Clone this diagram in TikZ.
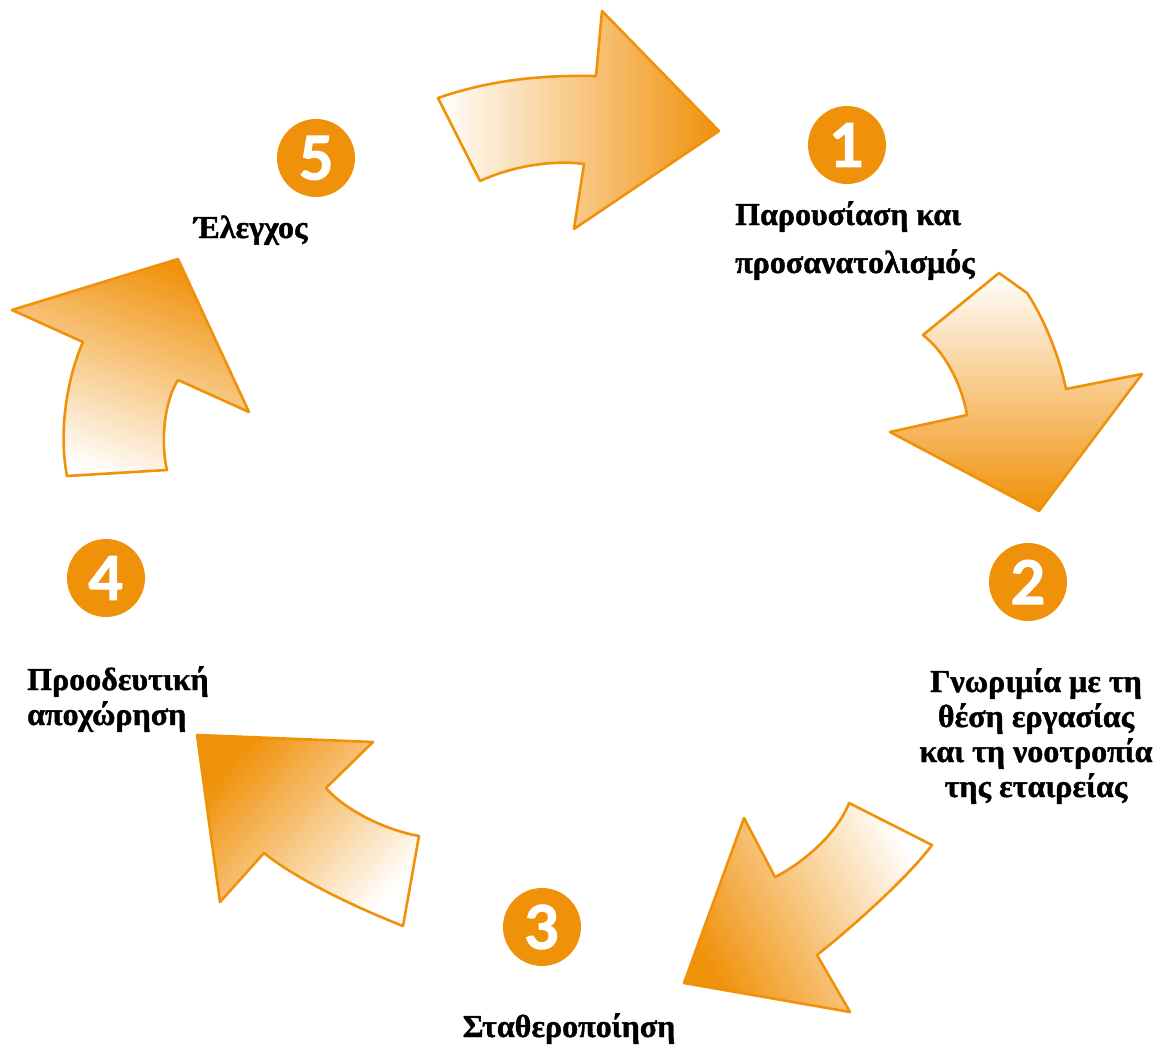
\documentclass[tikz,border=0pt]{standalone}
\usepackage{fontspec}
\setmainfont{Liberation Serif}[BoldFeatures={FakeBold=1.2}]
\newfontfamily\numfont{Lato}[BoldFeatures={FakeBold=2}]
\definecolor{org}{RGB}{240,145,10}
\tikzset{
  arr/.style={draw=org, line width=2.6pt, line join=round, top color=white, bottom color=org},
  num/.style={circle, fill=org, minimum size=78pt, inner sep=0pt, text=white, font=\numfont\bfseries\fontsize{60}{60}\selectfont},
  lbl/.style={inner sep=0pt, font=\bfseries\fontsize{32}{35}\selectfont}
}
\begin{document}
\begin{tikzpicture}[x=1pt,y=-1pt]
\useasboundingbox (0,0) rectangle (1157,1046);
% arrow 1 (top)
\path[arr, shading angle=90] (438,98) .. controls (490,80) and (540,75) .. (596,76) -- (602,11) -- (719,131) -- (574,229) -- (584,164) .. controls (555,160) and (515,165) .. (480,181) -- cycle;
% arrow 2 (right)
\path[arr, shading angle=0] (999,273) -- (1027,293) .. controls (1040,312) and (1058,350) .. (1066,389) -- (1142,374) -- (1039,511) -- (890,432) -- (967,415) .. controls (962,385) and (945,352) .. (923,335) -- cycle;
% arrow 3 (bottom right)
\path[arr, shading angle=-61] (849,803) -- (932,845) .. controls (910,875) and (855,925) .. (817,955) -- (850,1012) -- (684,983) -- (744,818) -- (775,877) .. controls (805,862) and (838,832) .. (849,803) -- cycle;
% arrow 4 (bottom left)
\path[arr, shading angle=-133] (197,735) -- (373,742) -- (326,788) .. controls (345,810) and (385,830) .. (419,836) -- (403,926) .. controls (350,905) and (295,878) .. (264,853) -- (220,902) -- cycle;
% arrow 5 (left)
\path[arr, shading angle=160] (178,259) -- (249,412) -- (178,380) .. controls (165,400) and (160,440) .. (167,470) -- (67,476) .. controls (58,430) and (68,375) .. (83,342) -- (12,310) -- cycle;
% numbers
\node[num] (n1) at (847,145) {1};
\node[num] (n2) at (1028,582) {2};
\node[num] (n3) at (542,927) {3};
\node[num] (n4) at (106,578) {4};
\node[num] (n5) at (316,158) {5};
% labels (base anchor = baseline of the last line)
\node[lbl, anchor=base west, align=left] (t1) at (735,273) {Παρουσίαση και\\[13pt]προσανατολισμός};
\node[lbl, anchor=base, align=center] (t2) at (1036,797) {Γνωριμία με τη\\θέση εργασίας\\και τη νοοτροπία\\της εταιρείας};
\node[lbl, anchor=base] (t3) at (569,1037) {Σταθεροποίηση};
\node[lbl, anchor=base west, align=left] (t4) at (27,725) {Προοδευτική\\αποχώρηση};
\node[lbl, anchor=base west] (t5) at (194,238) {Έλεγχος};
\end{tikzpicture}
\end{document}
